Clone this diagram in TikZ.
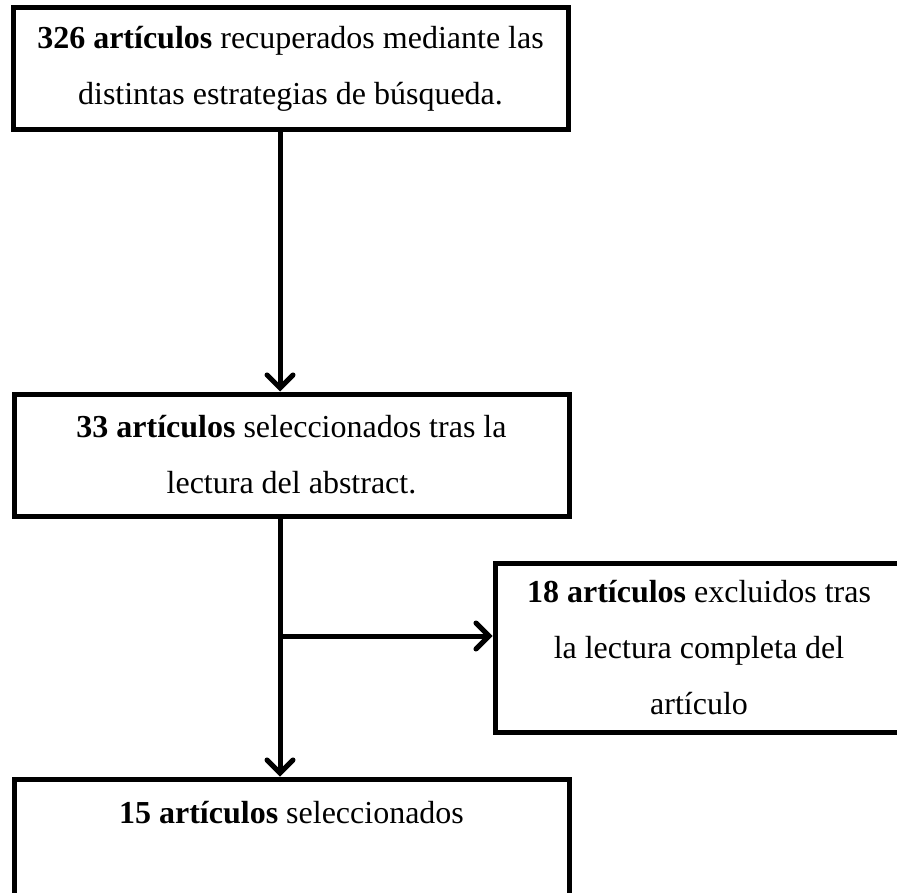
\documentclass[tikz,border=0pt]{standalone}
\usepackage{fontspec}
\setmainfont{Liberation Serif}
\usetikzlibrary{arrows.meta, positioning}
\tikzset{
	flowchart/.cd,
	box/.style = {
		draw,
		line width = 2.5pt,
		align = center,
		inner sep = 0pt,
		font = \fontsize{16}{28}\selectfont
	},
	wide/.style = {
		minimum width = 277.5pt,
		minimum height = 61pt
	},
	link/.style = {
		line width = 2.5pt,
		-{Straight Barb[length = 6.5pt, width = 13pt, line cap = round]}
	},
}

\begin{document}
\begin{tikzpicture}[
		x = 0.5pt, y = -0.5pt]
		\useasboundingbox (0, 0) rectangle (897, 892);
		\clip (0, 0) rectangle (897, 892);
		\node[flowchart/box, flowchart/wide] (retrieved) at (290.5, 69) {\textbf{326 artículos} recuperados mediante las\\distintas estrategias de búsqueda.};
		\node[flowchart/box, flowchart/wide] (abstract) at (291.5, 455) {\textbf{33 artículos} seleccionados tras la\\lectura del abstract.};
		\node[flowchart/box, minimum width = 204pt, minimum height = 84.5pt] (excluded) at (699, 647.5) {\textbf{18 artículos} excluidos tras\\la lectura completa del\\artículo};
		\node[flowchart/box, flowchart/wide] (selected) at (291.5, 840) {\textbf{15 artículos} seleccionados\\~};
		\coordinate (spine) at (280, 0);
		\coordinate (branch) at (280, 636);
		\draw[flowchart/link] (retrieved.south -| spine) -- (abstract.north -| spine);
		\draw[flowchart/link] (abstract.south -| spine) -- (selected.north -| spine);
		\draw[flowchart/link] (branch) -- (branch -| excluded.west);
	\end{tikzpicture}
\end{document}
